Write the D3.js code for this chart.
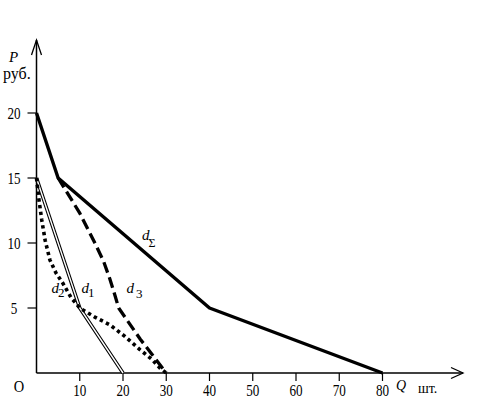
<!DOCTYPE html>
<html lang="ru">
<head>
    <meta charset="UTF-8">
    <title>Кривые спроса</title>
    <script src="https://d3js.org/d3.v7.min.js"></script>
    <style>
        body { margin: 0; background: #fff; }
        svg { display: block; }
        text { font-family: "Liberation Serif", "Times New Roman", serif; fill: #000; }
        .ital { font-style: italic; }
    </style>
</head>
<body>
    <div id="chart"></div>
    <script>
        // data
        const xTicks = [10, 20, 30, 40, 50, 60, 70, 80];
        const yTicks = [5, 10, 15, 20];

        const sumQ = [0, 5, 40, 80];
        const sumP = [20, 15, 5, 0];

        const d1Q = [0, 10, 20];
        const d1P = [15, 5, 0];

        const d2Q = [0, 0.5, 1.2, 2.0, 3.1, 4.5, 6.1, 8.0, 10, 13.5, 17, 20.5, 23.9, 26.5, 28.5, 30];
        const d2P = [15, 13.5, 11.8, 10.2, 8.7, 7.7, 6.9, 5.8, 5, 4.3, 3.7, 2.8, 1.8, 1.1, 0.4, 0];

        const d3Q = [5, 10, 13.5, 15.5, 17, 18.2, 19, 24, 30];
        const d3P = [15, 12.3, 10, 8.6, 7.2, 5.9, 5, 2.6, 0];

        const width = 500, height = 399;

        const svg = d3.select("#chart")
            .append("svg")
            .attr("width", width)
            .attr("height", height);

        const x = d3.scaleLinear().domain([0, 80]).range([36.5, 382.5]);
        const y = d3.scaleLinear().domain([0, 20]).range([373, 113]);

        const toPts = (qs, ps) => qs.map((q, i) => [q, ps[i]]);
        const line = d3.line().x(d => x(d[0])).y(d => y(d[1]));

        // axes
        const axes = svg.append("g").attr("stroke", "#000").attr("fill", "none").attr("stroke-width", 1.5);
        axes.append("line").attr("x1", x(0)).attr("x2", 463).attr("y1", y(0)).attr("y2", y(0));
        axes.append("line").attr("x1", x(0)).attr("x2", x(0)).attr("y1", y(0)).attr("y2", 40);
        axes.append("path").attr("stroke-width", 1.3)
            .attr("d", `M${x(0) - 5},55 L${x(0)},40 L${x(0) + 5},55`);
        axes.append("path").attr("stroke-width", 1.3)
            .attr("d", `M451,367.5 L463,${y(0)} L451,378.5`);

        // y ticks
        svg.append("g").selectAll("line")
            .data(yTicks)
            .join("line")
            .attr("x1", x(0) - 9).attr("x2", x(0))
            .attr("y1", d => y(d)).attr("y2", d => y(d))
            .attr("stroke", "#000").attr("stroke-width", 1.2);

        svg.append("g").selectAll("text")
            .data(yTicks)
            .join("text")
            .attr("transform", d => `translate(14,${y(d) + 6}) scale(0.82,1)`)
            .attr("text-anchor", "middle")
            .attr("font-size", 16)
            .text(d => d);

        // x ticks
        svg.append("g").selectAll("line")
            .data(xTicks)
            .join("line")
            .attr("x1", d => x(d)).attr("x2", d => x(d))
            .attr("y1", y(0)).attr("y2", y(0) + 8)
            .attr("stroke", "#000").attr("stroke-width", 1.2);

        svg.append("g").selectAll("text")
            .data(xTicks)
            .join("text")
            .attr("transform", d => `translate(${x(d)},396) scale(0.82,1)`)
            .attr("text-anchor", "middle")
            .attr("font-size", 16)
            .text(d => d);

        // axis captions
        svg.append("text").attr("transform", "translate(19,392) scale(0.85,1)")
            .attr("text-anchor", "middle").attr("font-size", 17).text("O");
        svg.append("text").attr("class", "ital").attr("x", 9).attr("y", 62)
            .attr("font-size", 15).text("P");
        svg.append("text").attr("x", 3).attr("y", 79)
            .attr("font-size", 16).text("руб.");
        svg.append("text").attr("class", "ital").attr("x", 396).attr("y", 390)
            .attr("font-size", 14).text("Q");
        svg.append("text").attr("x", 418).attr("y", 393)
            .attr("font-size", 14).text("шт.");

        // curves
        // d1: double thin line
        svg.append("path").datum(toPts(d1Q, d1P))
            .attr("d", line).attr("fill", "none")
            .attr("stroke", "#000").attr("stroke-width", 3.6);
        svg.append("path").datum(toPts(d1Q, d1P))
            .attr("d", line).attr("fill", "none")
            .attr("stroke", "#fff").attr("stroke-width", 1.4);

        // d2: dotted
        svg.append("path").datum(toPts(d2Q, d2P))
            .attr("d", line).attr("fill", "none")
            .attr("stroke", "#000").attr("stroke-width", 3.6)
            .attr("stroke-dasharray", "3.4,3.4");

        // d3: dashed
        svg.append("path").datum(toPts(d3Q, d3P))
            .attr("d", line).attr("fill", "none")
            .attr("stroke", "#000").attr("stroke-width", 3.3)
            .attr("stroke-dasharray", "11,5");

        // dΣ: solid thick
        svg.append("path").datum(toPts(sumQ, sumP))
            .attr("d", line).attr("fill", "none")
            .attr("stroke", "#000").attr("stroke-width", 3.4)
            .attr("stroke-linejoin", "round");

        // curve labels
        const labels = [
            { name: "d", sub: "Σ", x: 142, y: 240, sx: 148.5, sy: 247, subSize: 12 },
            { name: "d", sub: "2", x: 51.5, y: 293, sx: 58, sy: 297, subSize: 13 },
            { name: "d", sub: "1", x: 81.5, y: 293, sx: 88, sy: 297, subSize: 13 },
            { name: "d", sub: "3", x: 126.5, y: 293, sx: 136, sy: 298, subSize: 13 }
        ];
        const lab = svg.append("g").selectAll("g").data(labels).join("g");
        lab.append("text").attr("class", "ital")
            .attr("x", d => d.x).attr("y", d => d.y)
            .attr("font-size", 15).text(d => d.name);
        lab.append("text")
            .attr("x", d => d.sx).attr("y", d => d.sy)
            .attr("font-size", d => d.subSize).text(d => d.sub);
    </script>
</body>
</html>
